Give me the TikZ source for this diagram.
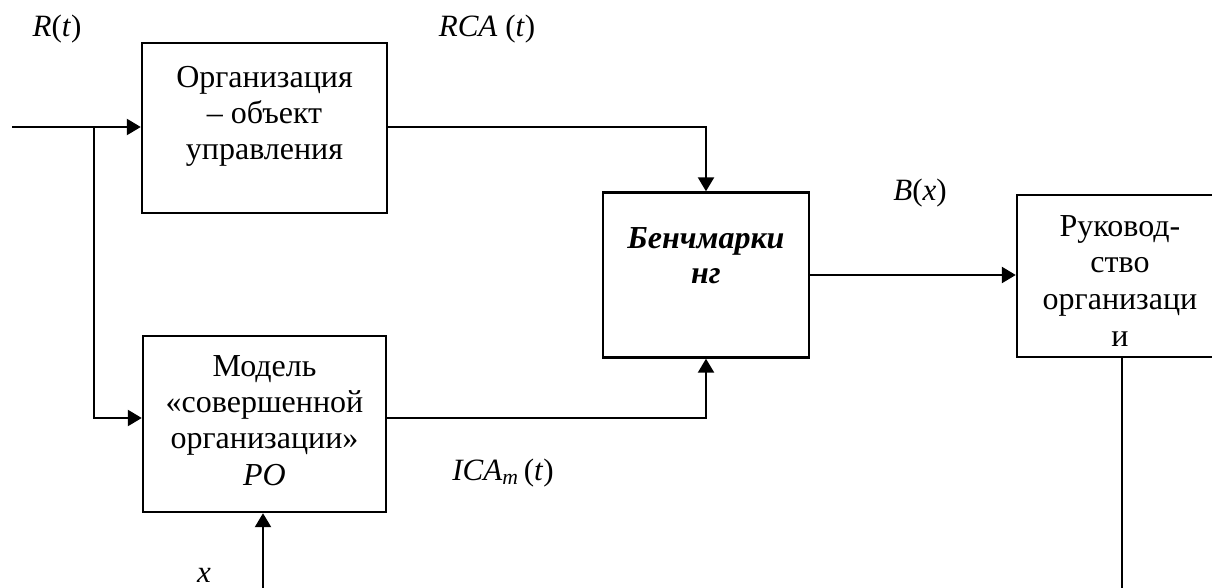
\documentclass[tikz,border=0pt]{standalone}
\usepackage{fontspec}
\setmainfont{Liberation Serif}
\usetikzlibrary{arrows.meta}
\begin{document}
\begin{tikzpicture}[x=1pt,y=-1pt,
  blk/.style={draw, line width=2.4pt, inner sep=0pt, minimum width=#1},
  txt/.style={inner sep=0pt, align=center, font=\fontsize{32}{36.3}\selectfont},
  lbl/.style={inner sep=0pt, font=\fontsize{31}{36}\selectfont},
  conn/.style={line width=2.3pt},
  arr/.style={line width=2.3pt, -{Triangle[length=14pt,width=16pt]}}
]
\useasboundingbox (0,0) rectangle (1212,588);
\clip (0,0) rectangle (1212,588);
% boxes
\node[blk=245pt, minimum height=170pt] (org) at (264.5,128) {};
\node[blk=243pt, minimum height=176pt] (model) at (264.5,424) {};
\node[blk=206pt, minimum height=165pt] (bench) at (706,275) {};
\node[blk=230pt, minimum height=162pt] (lead) at (1132,276) {};
% box texts
\node[txt, anchor=north] (orgt) at (264.5,66) {Организация\\– объект\\управления};
\node[txt, anchor=north] (modelt) at (264.5,355) {Модель\\«совершенной\\организации»\\\textit{PO}};
\node[txt, anchor=north, font=\fontsize{32}{35}\selectfont\bfseries\itshape] (bencht) at (706,227) {Бенчмарки\\нг};
\node[txt, anchor=north, font=\fontsize{32}{36.7}\selectfont] (leadt) at (1120,215) {Руковод-\\ство\\организаци\\и};
% labels
\node[lbl] (rt) at (57,29) {\textit{R}(\textit{t})};
\node[lbl] (rca) at (487,29) {\textit{RCA} (\textit{t})};
\node[lbl] (bx) at (920,193) {\textit{B}(\textit{x})};
\node[lbl] (ica) at (503,473) {\textit{ICA}\textsubscript{\textit{m}}\,(\textit{t})};
\node[lbl] (xl) at (204,575) {\textit{x}};
% coordinates
\coordinate (in) at (12,127);
\coordinate (br) at (94,127);
\coordinate (brd) at (94,418);
\coordinate (xin) at (263,600);
\coordinate (lbot) at (1122,600);
% connectors
\draw[arr] (in) -- (org.west |- in);
\draw[arr] (br) -- (brd) -- (model.west |- brd);
\draw[arr] (org.east |- in) -| (bench.north);
\draw[arr] (model.east |- brd) -| (bench.south);
\draw[arr] (bench.east) -- (lead.west |- bench.east);
\draw[arr] (xin) -- (xin |- model.south);
\draw[conn] (lbot |- lead.south) -- (lbot);
\end{tikzpicture}
\end{document}
